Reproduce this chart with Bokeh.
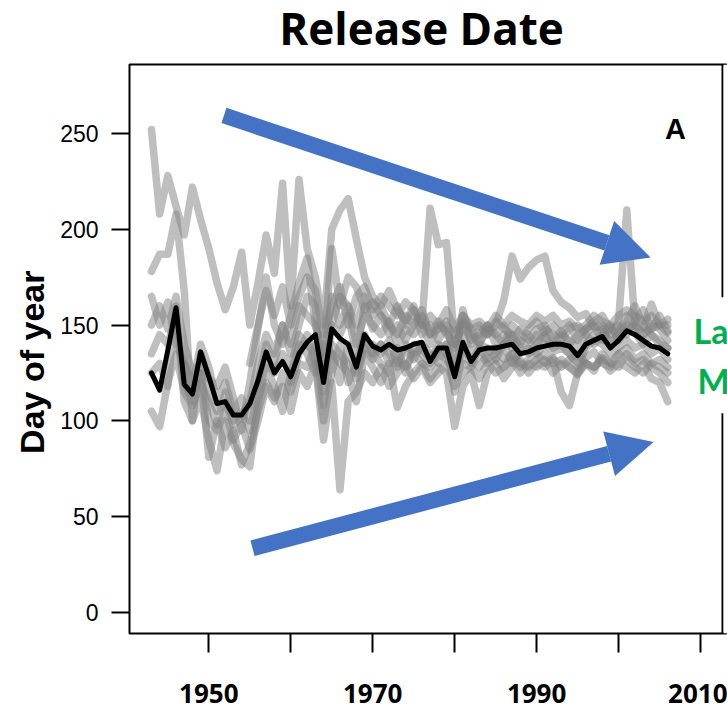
from math import pi
from bokeh.plotting import figure
from bokeh.models import Range1d, FixedTicker, Label, Arrow, NormalHead, BoxAnnotation, Span
from bokeh.embed import file_html
from bokeh.resources import INLINE

NAN = float("nan")
FIRST_YEAR = 1943
years = list(range(1943, 2007))

# Mean release day across populations, 1943-2006
mean_day = [125, 116, 137, 159, 119, 114, 136,
            123, 109, 110, 103, 103, 109, 121, 136, 125, 131,
            123, 135, 141, 145, 120, 148, 143, 140, 128, 145,
            139, 137, 140, 137, 138, 140, 141, 131, 138, 138,
            123, 141, 131, 137, 138, 138, 139, 140, 135, 136,
            138, 139, 140, 140, 139, 134, 140, 142, 144, 138,
            142, 147, 145, 142, 139, 138, 135]

# Individual populations (start year, release day per year)
pop_a = (1943, [252, 208, 228, 212, 197, 222, 205,
                190, 172, 158, 170, 188, 150, 172, 197, 177, 224,
                160, 226, 190, 175, 150, 200, 210, 216, 195, 175,
                165, 160, 168, 158, 152, 160, 150, 211, 192, 193,
                140, 155, 148, 150, 145, 150, 163, 186, 174, 180,
                184, 186, 168, 162, 159, 154, 156, 149, 150, 145,
                152, 210, 150, 148, 161, 150, 153])
pop_b = (1943, [178, 187, 187, 208, 168, 100, 135,
                122, 118, 128, 112, 95, 120, 148, 175, 150, 140,
                155, 172, 185, 150, 135, 190, 160, 175, 170, 158,
                162, 155, 150, 160, 150, 158, 145, 150, 142, 150,
                145, 152, 148, 140, 150, 145, 140, 150, 146, 142,
                148, 150, 142, 147, 140, 145, 148, 150, 142, 148,
                150, 145, 152, 158, 148, 150, 146])
pop_c = (1943, [165, 150, 162, 140, 130, 118, 140,
                128, 110, 120, 105, 112, 100, 120, 140, 130, 150,
                140, 160, 155, 150, 130, 165, 150, 160, 140, 155,
                150, 145, 152, 140, 148, 145, 150, 140, 150, 147,
                138, 150, 142, 145, 150, 140, 145, 138, 142, 140,
                145, 143, 140, 145, 142, 138, 145, 150, 148, 140,
                146, 155, 150, 145, 148, 155, 147])
pop_d = (1943, [135, 145, 140, 155, 120, 110, 125,
                81, 100, 86, 95, 77, 88, 105, 120, 112, 118,
                105, 125, 118, 130, 90, 120, 64, 110, 115, 125,
                120, 128, 118, 125, 130, 122, 128, 120, 125, 130,
                118, 125, 128, 122, 130, 125, 128, 132, 125, 130,
                128, 132, 125, 130, 128, 124, 130, 128, 132, 126,
                130, 128, 125, 130, 122, 120, 110])
pop_e = (1943, [125, 130, 118, 160, 110, 100, 112,
                90, 74, 100, 88, 80, 76, 110, 128, 118, 105,
                125, 140, 135, 125, 140, 135, 130, 125, 110, 135,
                128, 120, 130, 107, 118, 125, 130, 122, 128, 125,
                97, 118, 125, 108, 125, 130, 122, 128, 132, 125,
                130, 128, 132, 115, 108, 125, 130, 126, 135, 130,
                128, 135, 130, 132, 128, 125, 120])
pop_f = (1943, [105, 97, 120, 135, 115, 108, 120,
                110, 98, 115, 100, 105, 95, 115, 130, 125, 135,
                128, 145, 140, 135, 125, 140, 135, 130, 125, 140,
                135, 130, 125, 132, 128, 135, 130, 128, 135, 132,
                125, 130, 128, 135, 130, 132, 128, 135, 130, 128,
                132, 135, 130, 132, 128, 125, 133, 136, 130, 128,
                135, 138, 132, 135, 130, 132, 128])
pop_g = (1943, [150, 160, 148, 165, 140, 125, 130,
                115, 105, 110, 98, 102, 110, 130, 145, 135, 150,
                135, 150, 165, 160, 115, 150, 145, 155, 135, 160,
                148, 155, 145, 150, 142, 150, 155, 145, 148, 152,
                130, 158, 140, 148, 145, 152, 148, 145, 140, 148,
                152, 146, 150, 145, 150, 142, 148, 152, 155, 148,
                145, 152, 160, 150, 145, 140, 138])
pop_h = (1947, [130, 115, 125,
                100, 95, 105, 90, 98, 85, 100, 118, 110, 125,
                115, 130, 128, 140, 108, 135, 120, 140, 122, 138,
                132, 140, 135, 128, 138, 132, 140, 135, 130, 140,
                115, 135, 130, 138, 132, 135, 140, 130, 136, 138,
                135, 140, 136, 138, 135, 128, 138, 142, 140, 135,
                138, 142, 138, 140, 135, 138, 132])
pop_i = (1955, [130, 150, 168, 155, 170,
                150, 165, 175, 168, 145, 160, 170, 150, 165, 170,
                158, 165, 160, 155, 162, 158, 150, 155, 150, 158,
                148, 155, 150, 152, 148, 155, 150, 155, 152, 150,
                155, 152, 155, 150, 152, 148, 150, 155, 152, 150,
                155, 158, 155, 152, 155, 150, 150])
pop_j = (1960, [120, 135, 145, 130, 100, 125, 140, 120, 130, 145,
                135, 140, 130, 138, 125, 140, 135, 130, 138, 140,
                128, 145, 135, 140, 138, 132, 140, 145, 138, 135,
                140, 145, 138, 140, 135, 130, 140, 145, 148, 140,
                145, 150, 146, 140, 145, 142, 138])
pop_k = (1965, [150, 165, 160, 150, 165,
                155, 160, 150, 145, 155, 150, 158, 145, 152, 145,
                140, 150, 145, 140, 148, 145, 150, 142, 148, 145,
                140, 148, 145, 142, 148, 150, 145, 140, 145, 150,
                142, 148, 150, 145, 150, 148, 142])
pop_l = (1970, [140, 135, 142, 130, 140, 135, 138, 132, 140, 135,
                125, 138, 132, 128, 135, 138, 132, 135, 128, 132,
                135, 130, 133, 128, 132, 135, 130, 128, 133, 130,
                135, 132, 128, 125, 130, 128, 125])

populations = [pop_a, pop_b, pop_c, pop_d, pop_e, pop_f, pop_g,
               pop_h, pop_i, pop_j, pop_k, pop_l]

y_ticks = [0, 50, 100, 150, 200, 250]
x_ticks = [1950, 1960, 1970, 1980, 1990, 2000, 2010]
x_tick_labels = {1950: "1950", 1960: "", 1970: "1970", 1980: "",
                 1990: "1990", 2000: "", 2010: "2010"}

X_MIN, X_BOX = 1940.32, 2012.68     # left and right edges of the plot box
BLUE = "#4472C4"
GREEN = "#00B050"

# The frame runs to the page edge so the side note can overhang the box
p = figure(width=727, height=709,
           x_range=Range1d(X_MIN, 2013.29), y_range=Range1d(-11, 286),
           output_backend="svg", toolbar_location=None,
           min_border_left=129, min_border_right=0,
           min_border_top=64, min_border_bottom=76)
p.background_fill_color = "white"
p.border_fill_color = "white"
p.outline_line_color = "black"
p.outline_line_width = 2
p.grid.visible = False

# Axes
p.xaxis.ticker = FixedTicker(ticks=x_ticks)
p.xaxis.major_label_overrides = x_tick_labels
p.xaxis.major_label_text_font = "Open Sans"
p.xaxis.major_label_text_font_style = "bold"
p.xaxis.major_label_text_font_size = "26px"
p.xaxis.major_label_text_color = "black"
p.xaxis.major_label_text_line_height = 0.8
p.xaxis.major_label_standoff = 31
p.xaxis.major_tick_out = 19

p.yaxis.ticker = FixedTicker(ticks=y_ticks)
p.yaxis.major_label_text_font = "Liberation Sans"
p.yaxis.major_label_text_font_size = "23px"
p.yaxis.major_label_text_color = "black"
p.yaxis.major_label_standoff = 13
p.yaxis.major_tick_out = 18

for ax in (p.xaxis, p.yaxis):
    ax.axis_line_color = None
    ax.major_tick_in = 0
    ax.major_tick_line_color = "black"
    ax.major_tick_line_width = 2
    ax.minor_tick_line_color = None

# Title and y-axis caption live in the side panels
p.add_layout(Label(x=1975.96, y=304.8, text="Release Date", text_font="Open Sans",
                   text_font_style="bold", text_font_size="44px",
                   text_color="black", text_align="center",
                   text_baseline="middle"), "above")
p.add_layout(Label(x=1928.4, y=130.6, text="Day of year", angle=pi / 2,
                   text_font="Liberation Sans", text_font_style="bold",
                   text_font_size="34px", text_color="black",
                   text_align="center", text_baseline="middle"), "left")

# Individual populations in translucent grey
for start, vals in populations:
    ys = [NAN] * (start - FIRST_YEAR) + vals
    p.line(years, ys, line_color="#808080", line_alpha=0.5, line_width=7.5,
           line_join="round", line_cap="round")

# Mean across populations
p.line(years, mean_day, line_color="black", line_width=5,
       line_join="round", line_cap="round")

# Trend arrows
for xs, ys, xe, ye in [(1951.85, 259.4, 2003.9, 185.3),
                       (1955.33, 33.5, 2004.27, 89.0)]:
    head = NormalHead(size=46, fill_color=BLUE, line_color=BLUE, line_alpha=0)
    p.add_layout(Arrow(end=head, x_start=xs, y_start=ys, x_end=xe, y_end=ye,
                       line_color=BLUE, line_width=16))

p.add_layout(Label(x=2006.95, y=252.4, text="A", text_font="Liberation Sans",
                   text_font_style="bold", text_font_size="29px",
                   text_color="black", text_align="center",
                   text_baseline="middle"))

# Right side of the plot box, with blank margin beyond it
p.add_layout(Span(location=X_BOX, dimension="height", line_color="black",
                  line_width=2))
p.add_layout(BoxAnnotation(left=X_BOX + 0.14, right=2014.5,
                           fill_color="white", fill_alpha=1, line_color=None))

# Side note box
p.add_layout(BoxAnnotation(left=2008.2, right=2014.5, bottom=104, top=164.5,
                           fill_color="white", fill_alpha=1, line_color=None))
p.add_layout(Label(x=2009.15, y=147.3, text="La", text_font="Lato",
                   text_font_style="bold", text_font_size="34px",
                   text_color=GREEN, text_align="left", text_baseline="middle"))
p.add_layout(Label(x=2009.64, y=121.2, text="M", text_font="Lato",
                   text_font_style="bold", text_font_size="34px",
                   text_color=GREEN, text_align="left", text_baseline="middle"))

open("out.html", "w").write(file_html(p, INLINE))
